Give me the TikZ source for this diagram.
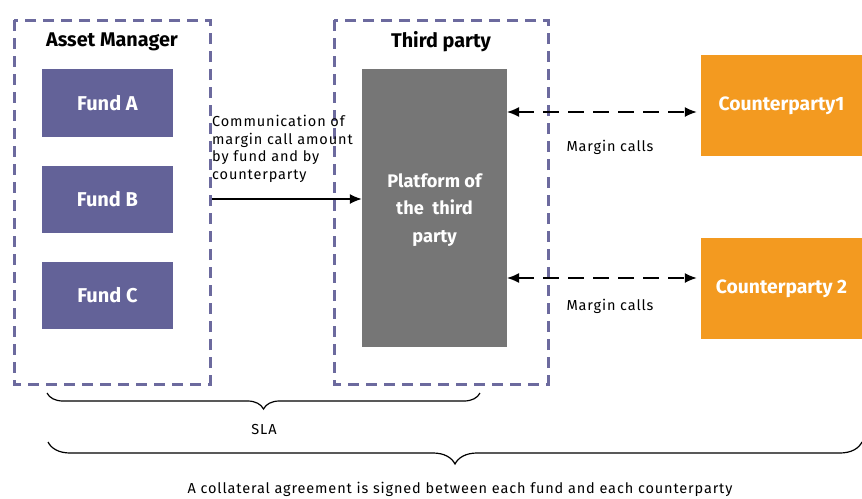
\documentclass[tikz,border=0pt]{standalone}
\usepackage{fontspec}
\setmainfont{Fira Sans}
\newfontfamily\smallf[LetterSpace=6]{Fira Sans}
\usetikzlibrary{decorations.pathreplacing,arrows.meta}
\definecolor{fundc}{HTML}{636298}
\definecolor{dashc}{HTML}{6C6A9E}
\definecolor{platc}{HTML}{767676}
\definecolor{orgc}{HTML}{F39A20}
\tikzset{
  grp/.style={draw=dashc, line width=3pt, dash pattern=on 11pt off 7pt},
  fund/.style={fill=fundc, text=white, font=\fontsize{20}{22}\selectfont\bfseries, inner sep=0pt},
  cpty/.style={fill=orgc, text=white, font=\fontsize{19.3}{22}\selectfont\bfseries, inner sep=0pt},
  plat/.style={fill=platc, inner sep=0pt},
  plattext/.style={text=white, font=\fontsize{18.2}{27.5}\selectfont\bfseries, align=center, inner sep=0pt},
  small/.style={font=\smallf\fontsize{14.5}{17.5}\selectfont, inner sep=0pt},
  ttl/.style={font=\fontsize{19.8}{22}\selectfont\bfseries, inner sep=0pt},
  mc/.style={line width=1.5pt, dash pattern=on 16pt off 9pt, {Latex[length=12pt,width=10pt]}-{Latex[length=12pt,width=10pt]}},
  brc/.style={decorate, decoration={brace, mirror, amplitude=#1}, line width=1.2pt},
}
\begin{document}
\begin{tikzpicture}[x=1pt,y=-1pt]
\useasboundingbox (0,0) rectangle (862,498);
% groups
\draw[grp] (14,20) rectangle (210,384);
\draw[grp] (334,20) rectangle (548,384);
\node[ttl] (amt) at (112,42) {Asset Manager};
\node[ttl] (tpt) at (441,42) {Third party};
% funds
\node[fund, minimum width=131pt, minimum height=68pt] (fa) at (107.5,103) {Fund A};
\node[fund, minimum width=131pt, minimum height=67pt] (fb) at (107.5,199.5) {Fund B};
\node[fund, minimum width=131pt, minimum height=67pt] (fc) at (107.5,295.5) {Fund C};
% platform
\node[plat, minimum width=145pt, minimum height=278pt] (pl) at (434.5,208) {};
\node[plattext] (plt) at (434.5,210) {Platform of\\the\ \ third\\party};
% counterparties
\node[cpty, minimum width=161pt, minimum height=101pt] (c1) at (781.5,105.5) {Counterparty1};
\node[cpty, minimum width=161pt, minimum height=101pt] (c2) at (781.5,288.5) {Counterparty 2};
% communication
\node[small, anchor=north west, align=left] (comm) at (212,115) {Communication of\\margin call amount\\by fund and by\\counterparty};
\coordinate (cs) at (212,199);
\draw[line width=1.5pt, -{Latex[length=12pt,width=10pt]}] (cs) -- (cs -| pl.west);
% margin calls
\coordinate (m1) at (507,112);
\coordinate (m2) at (507,278);
\draw[mc] (m1) -- ([xshift=-4pt]m1 -| c1.west);
\draw[mc] (m2) -- ([xshift=-4pt]m2 -| c2.west);
\node[small] (mc1) at (610,147) {Margin calls};
\node[small] (mc2) at (610,306) {Margin calls};
% braces
\coordinate (b1a) at (47,393);
\coordinate (b1b) at (480,393);
\draw[brc=16pt] (b1a) -- (b1b);
\node[small] (sla) at (264,429) {SLA};
\coordinate (b2a) at (48,442);
\coordinate (b2b) at (862,442);
\draw[brc=22pt] (b2a) -- (b2b);
\node[small] (agr) at (460,489) {A collateral agreement is signed between each fund and each counterparty};
\end{tikzpicture}
\end{document}
